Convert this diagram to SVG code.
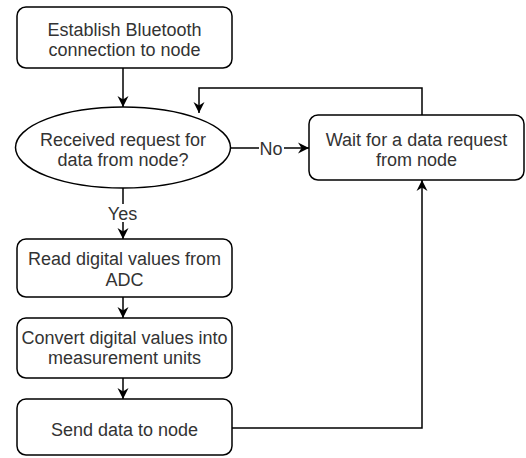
<svg xmlns="http://www.w3.org/2000/svg" width="526" height="458" viewBox="0 0 526 458">
  <defs>
    <marker id="arr" viewBox="0 0 11 12" markerWidth="11" markerHeight="12" markerUnits="userSpaceOnUse" refX="11" refY="6" orient="auto">
      <path d="M0,0.5 L11,6 L0,11.5 L3.5,6 Z" fill="#000"/>
    </marker>
    <style>
      .box { fill: #fff; stroke: #000; stroke-width: 1.5; }
      .txt { font-family: "Liberation Sans", Arial, sans-serif; font-size: 18px; fill: #333; text-anchor: middle; }
      .edge { fill: none; stroke: #000; stroke-width: 1.5; marker-end: url(#arr); }
      .lbl { fill: #fff; }
    </style>
  </defs>
  <rect width="526" height="458" fill="#fff"/>
  <g id="connectors">
    <path class="edge" d="M123,68 V107"/>
    <path class="edge" d="M422,115 V88 H199 V113"/>
    <path class="edge" d="M230,148 H309"/>
    <path class="edge" d="M123,188 V239"/>
    <path class="edge" d="M123,297 V318"/>
    <path class="edge" d="M123,378 V399"/>
    <path class="edge" d="M232,428 H422 V180"/>
    <rect class="lbl" x="259" y="139" width="25" height="18"/>
    <text class="txt" x="271" y="154.5">No</text>
    <rect class="lbl" x="106" y="204" width="34" height="18"/>
    <text class="txt" x="122.5" y="219.5">Yes</text>
  </g>
  <g id="establish">
    <rect class="box" x="17" y="7" width="215" height="61" rx="9"/>
    <text class="txt" x="124.5" y="36">Establish Bluetooth</text>
    <text class="txt" x="124.5" y="56">connection to node</text>
  </g>
  <g id="decision">
    <ellipse class="box" cx="123" cy="147.5" rx="107.5" ry="40.5"/>
    <text class="txt" x="123" y="146">Received request for</text>
    <text class="txt" x="123" y="166">data from node?</text>
  </g>
  <g id="wait">
    <rect class="box" x="309" y="115" width="215" height="65" rx="9"/>
    <text class="txt" x="416.5" y="146">Wait for a data request</text>
    <text class="txt" x="416.5" y="166">from node</text>
  </g>
  <g id="read">
    <rect class="box" x="17" y="239" width="215" height="58" rx="9"/>
    <text class="txt" x="124.5" y="265">Read digital values from</text>
    <text class="txt" x="124.5" y="286">ADC</text>
  </g>
  <g id="convert">
    <rect class="box" x="17" y="318" width="215" height="60" rx="9"/>
    <text class="txt" x="124.5" y="344">Convert digital values into</text>
    <text class="txt" x="124.5" y="364">measurement units</text>
  </g>
  <g id="send">
    <rect class="box" x="17" y="399" width="215" height="56" rx="9"/>
    <text class="txt" x="124.5" y="436">Send data to node</text>
  </g>
</svg>
